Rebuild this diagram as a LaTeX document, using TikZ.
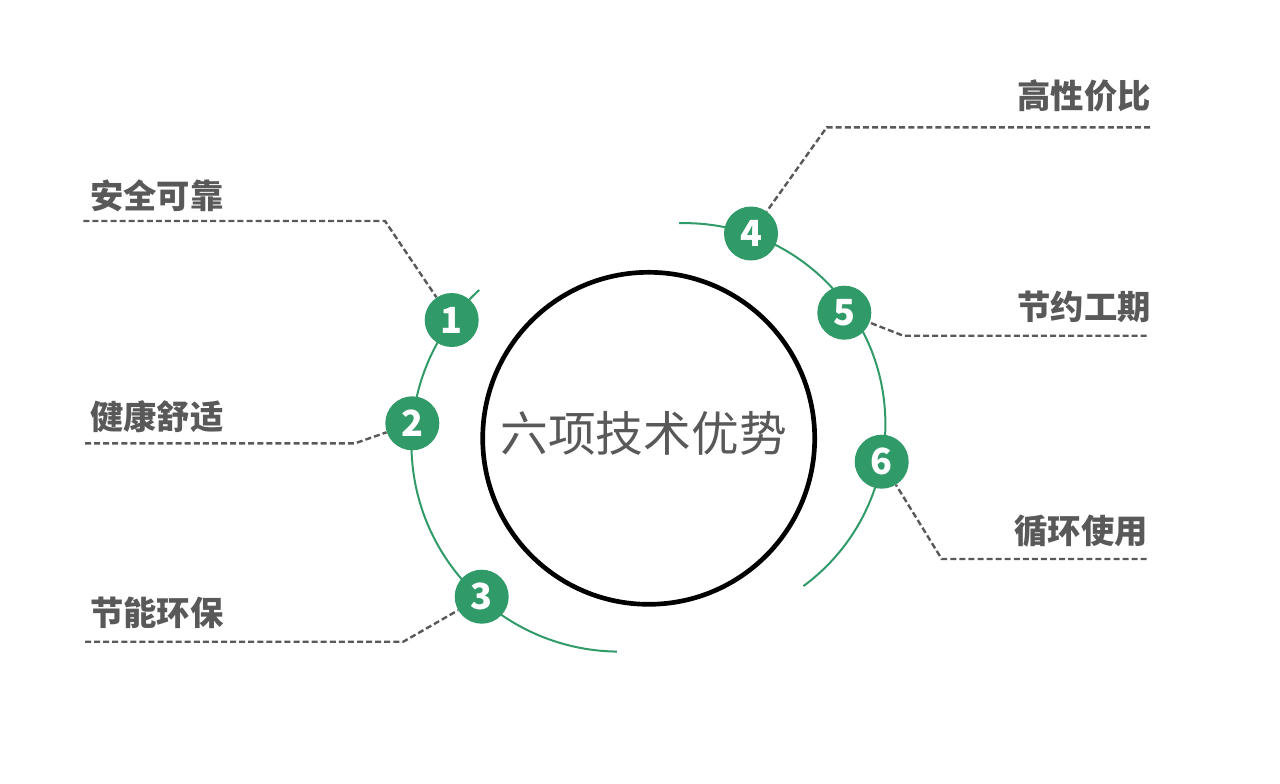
\documentclass[tikz,border=0pt]{standalone}
\usepackage{fontspec}
\newfontfamily\cjk{Noto Sans CJK SC}
\definecolor{dgreen}{RGB}{48,154,104}
\definecolor{tgray}{RGB}{89,89,89}
\begin{document}
\begin{tikzpicture}[x=0.75pt,y=0.75pt,
  numc/.style={circle,fill=dgreen,draw=none,minimum size=40.5pt,inner sep=0pt,
    text=white,font=\cjk\bfseries\fontsize{27pt}{28pt}\selectfont},
  lbl/.style={inner sep=0pt,text=tgray,font=\cjk\bfseries\fontsize{25pt}{26pt}\selectfont},
  dline/.style={draw=tgray,line width=1.8pt,dash pattern=on 4.5pt off 2.3pt},
  garc/.style={draw=dgreen,line width=1.5pt}]
\useasboundingbox (0,0) rectangle (1280,-783);
% green arcs
\draw[garc] (619.4,-443.6) ++(132.4:156pt) arc[start angle=132.4,end angle=269.3,radius=156pt];
\draw[garc] (684.4,-424.1) ++(91.5:150.75pt) arc[start angle=91.5,end angle=-53.7,radius=150.75pt];
% central circle
\node[circle,draw=black,line width=3.5pt,minimum size=249pt,inner sep=0pt] (core) at (648.7,-438.3) {};
\node[inner sep=0pt,text=tgray,font=\cjk\fontsize{35.8pt}{36pt}\selectfont] (title) at (643.7,-433) {六项技术优势};
% numbered circles
\node[numc] (c1) at (451.7,-320) {1};
\node[numc] (c2) at (412.3,-423.3) {2};
\node[numc] (c3) at (481.7,-596.7) {3};
\node[numc] (c4) at (751,-233.5) {4};
\node[numc] (c5) at (844.3,-312.7) {5};
\node[numc] (c6) at (881.7,-461.7) {6};
% labels
\node[lbl,anchor=west] (l1) at (90,-195.4) {安全可靠};
\node[lbl,anchor=west] (l2) at (90,-417) {健康舒适};
\node[lbl,anchor=west] (l3) at (90,-612.5) {节能环保};
\node[lbl,anchor=east] (l4) at (1151,-96) {高性价比};
\node[lbl,anchor=east] (l5) at (1151,-306.7) {节约工期};
\node[lbl,anchor=east] (l6) at (1148,-531) {循环使用};
% connector points
\coordinate (a1) at (83.3,-221);   \coordinate (b1) at (385,-221);
\coordinate (a2) at (85,-443.3);   \coordinate (b2) at (355,-443.3);
\coordinate (a3) at (85,-641.7);   \coordinate (b3) at (403.3,-641.7);
\coordinate (a4) at (1150,-127.3); \coordinate (b4) at (826.7,-127.3);
\coordinate (a5) at (1146.7,-335.7); \coordinate (b5) at (903.3,-335.7);
\coordinate (a6) at (1146.7,-559); \coordinate (b6) at (941.7,-559);
\draw[dline] (a1) -- (b1) -- (c1);
\draw[dline] (a2) -- (b2) -- (c2);
\draw[dline] (a3) -- (b3) -- (c3);
\draw[dline] (a4) -- (b4) -- (c4);
\draw[dline] (a5) -- (b5) -- (c5);
\draw[dline] (a6) -- (b6) -- (c6);
\end{tikzpicture}
\end{document}
